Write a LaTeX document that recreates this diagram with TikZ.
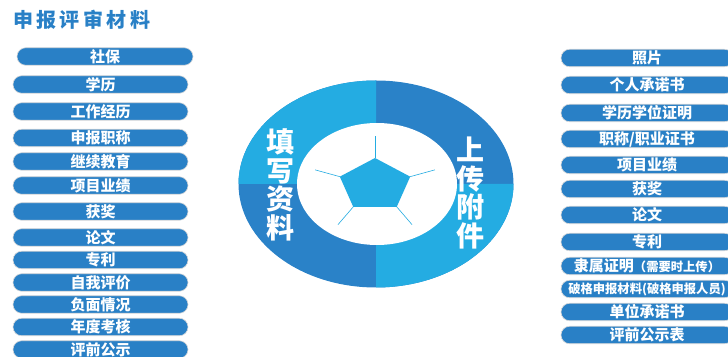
\documentclass[tikz,border=0pt]{standalone}
\usepackage{fontspec}
\newfontfamily\cjk{Noto Sans CJK SC}
\definecolor{barblue}{RGB}{41,128,198}
\definecolor{ringdark}{RGB}{42,130,200}
\definecolor{ringlight}{RGB}{36,172,226}
\begin{document}
\begin{tikzpicture}[x=1pt,y=1pt,
    bar/.style={fill=barblue,draw=black!15,line width=0.6pt,rounded corners=8.7pt,
      minimum height=17.5pt,inner sep=0pt,text=white,
      font=\cjk\bfseries\fontsize{15}{16}\selectfont},
    lbar/.style={bar,minimum width=175pt},
    rbar/.style={bar,minimum width=172pt},
    vtext/.style={text=white,align=center,inner sep=0pt,
      font=\cjk\bfseries\fontsize{28}{28.5}\selectfont}]
  \useasboundingbox (0,0) rectangle (728,356);
  \clip (0,0) rectangle (728,356);

  \node[anchor=west,inner sep=0pt,text=barblue,
    font=\cjk\bfseries\fontsize{20}{22}\selectfont\addfontfeature{LetterSpace=17}]
    (title) at (13,336) {申报评审材料};

  % ring
  \fill[ringdark] (376,172) ellipse[x radius=137.5,y radius=103.5];
  \begin{scope}
    \clip (200,172) rectangle (376,300) (376,172) rectangle (540,50);
    \fill[ringlight] (376,172) ellipse[x radius=137.5,y radius=103.5];
  \end{scope}
  \fill[white] (377,172) ellipse[x radius=80,y radius=61];

  \fill[ringlight] (375+37*cos 90,171+27*sin 90)
    \foreach \a in {162,234,306,18} { -- (375+37*cos \a,171+27*sin \a) } -- cycle;
  \foreach \a in {90,162,234,306,18}
    \draw[ringlight,line width=0.6pt] (375+37*cos \a,171+27*sin \a)
      -- (375+63*cos \a,171+49*sin \a);

  \node[vtext] (fill) at (280,171) {填\\写\\资\\料};
  \node[vtext] (upload) at (470,163) {上\\传\\附\\件};

  % left column
  \node[bar,minimum width=176pt] (l1) at (105,299.5) {社保};
  \foreach \n/\y/\t in {2/271.5/学历, 3/244.5/工作经历, 4/218/申报职称,
      5/194.5/继续教育, 6/170.5/项目业绩, 7/144.5/获奖, 8/118.5/论文,
      9/96/专利, 10/73.5/自我评价, 11/51.5/负面情况, 12/29/年度考核,
      13/6.5/评前公示}
    \node[lbar] (l\n) at (100.5,\y) {\t};

  % right column
  \foreach \n/\y/\t in {1/298/照片, 2/271/个人承诺书, 3/243/学历学位证明,
      4/217/{职称/职业证书}, 5/191/项目业绩, 6/167/获奖, 7/141/论文,
      8/114/专利, 11/44/单位承诺书, 12/21/评前公示表}
    \node[rbar] (r\n) at (647,\y) {\t};
  \node[rbar] (r9) at (647,90)
    {隶属证明{\fontsize{12.3}{13}\selectfont （需要时上传）}};
  \node[rbar,font=\cjk\bfseries\fontsize{12.3}{14}\selectfont] (r10) at (647,67)
    {破格申报材料(破格申报人员)};
\end{tikzpicture}
\end{document}
